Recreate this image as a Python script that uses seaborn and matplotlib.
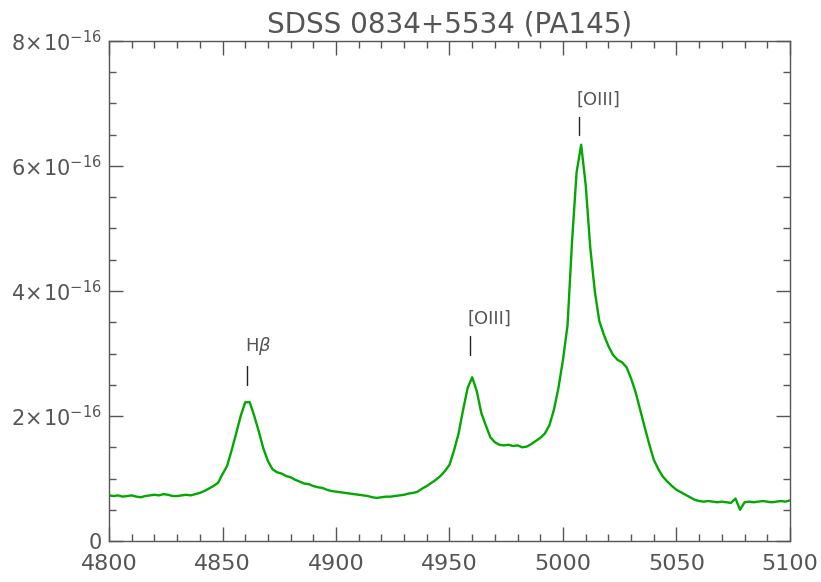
import numpy as np
import pandas as pd
import seaborn as sns
sns.set_theme(context='notebook', style='ticks')
import matplotlib.pyplot as plt

plt.rcParams['font.family'] = ['DejaVu Sans']
plt.rcParams['mathtext.fontset'] = 'dejavusans'

# spectrum (flux in units of 1e-16), 2 A sampling
wave = np.arange(4800, 5101, 2)
flux = [
    0.73, 0.72, 0.73, 0.71, 0.72, 0.73, 0.71, 0.70, 0.72, 0.73,
    0.74, 0.73, 0.75, 0.74, 0.72, 0.72, 0.73, 0.74, 0.73, 0.75,
    0.77, 0.80, 0.84, 0.88, 0.93, 1.07, 1.20, 1.45, 1.72, 2.00,
    2.22, 2.22, 2.00, 1.75, 1.48, 1.28, 1.15, 1.10, 1.08, 1.04,
    1.02, 0.98, 0.95, 0.92, 0.91, 0.88, 0.86, 0.85, 0.82, 0.80,
    0.79, 0.78, 0.77, 0.76, 0.75, 0.74, 0.73, 0.72, 0.70, 0.69,
    0.70, 0.71, 0.71, 0.72, 0.73, 0.74, 0.76, 0.77, 0.79, 0.84,
    0.88, 0.93, 0.98, 1.04, 1.12, 1.22, 1.45, 1.72, 2.10, 2.45,
    2.62, 2.40, 2.05, 1.85, 1.66, 1.58, 1.54, 1.53, 1.54, 1.52,
    1.53, 1.50, 1.51, 1.55, 1.60, 1.65, 1.72, 1.85, 2.10, 2.45,
    2.90, 3.45, 4.80, 5.90, 6.34, 5.70, 4.70, 4.00, 3.52, 3.30,
    3.12, 2.98, 2.90, 2.86, 2.78, 2.60, 2.38, 2.10, 1.82, 1.55,
    1.30, 1.15, 1.03, 0.95, 0.88, 0.82, 0.78, 0.74, 0.70, 0.66,
    0.64, 0.63, 0.64, 0.63, 0.62, 0.63, 0.62, 0.61, 0.68, 0.50,
    0.62, 0.63, 0.62, 0.63, 0.64, 0.63, 0.62, 0.63, 0.64, 0.63,
    0.65,
]

# axis ticks
x_major = [4800, 4850, 4900, 4950, 5000, 5050, 5100]
y_major = [0, 2, 4, 6, 8]
y_labels = ['0', r'$2\!\times\!10^{-16}$', r'$4\!\times\!10^{-16}$',
            r'$6\!\times\!10^{-16}$', r'$8\!\times\!10^{-16}$']

# line identifications: label, wavelength, tick bottom/top, label bottom (1e-16)
line_names = [r'H$\beta$', '[OIII]', '[OIII]']
line_wave = [4860.8, 4959.0, 5007.0]
tick_lo = [2.50, 2.98, 6.50]
tick_hi = [2.80, 3.28, 6.78]
label_y = [2.95, 3.42, 6.92]

df = pd.DataFrame({'wave': wave, 'flux': np.array(flux) * 1e-16})

grey = '#555555'
fig = plt.figure(figsize=(8.21, 5.82), dpi=100)
ax = fig.add_axes([0.1328, 0.0704, 0.8294, 0.8592])

sns.lineplot(data=df, x='wave', y='flux', ax=ax, color='#00a800', linewidth=1.7)

for name, w, lo, hi, ly in zip(line_names, line_wave, tick_lo, tick_hi, label_y):
    ax.plot([w, w], [lo * 1e-16, hi * 1e-16], color='#222222', linewidth=1)
    ax.text(w - 1, ly * 1e-16, name, ha='left', va='bottom', fontsize=13, color=grey)

ax.set_xlim(4800, 5100)
ax.set_ylim(0, 8e-16)
ax.set_xticks(x_major)
ax.set_xticklabels([str(v) for v in x_major])
ax.set_xticks(np.arange(4800, 5101, 10), minor=True)
ax.set_yticks([v * 1e-16 for v in y_major])
ax.set_yticklabels(y_labels)
ax.set_yticks(np.arange(0, 8.01, 0.5) * 1e-16, minor=True)

ax.tick_params(which='both', direction='in', top=True, right=True, colors=grey,
               labelcolor=grey)
ax.tick_params(which='major', length=10, width=1)
ax.tick_params(which='minor', length=5, width=1)
ax.tick_params(axis='x', pad=9, labelsize=16)
ax.tick_params(axis='y', pad=5, labelsize=15)
for s in ax.spines.values():
    s.set_color(grey)
    s.set_linewidth(1)
# no axis labels or offset texts in the original
ax.xaxis.label.set_visible(False)
ax.yaxis.label.set_visible(False)
ax.xaxis.offsetText.set_visible(False)
ax.yaxis.offsetText.set_visible(False)
ax.set_title('SDSS 0834+5534 (PA145)', fontsize=20, color=grey, pad=6)

fig.savefig('out.png', dpi=100)
